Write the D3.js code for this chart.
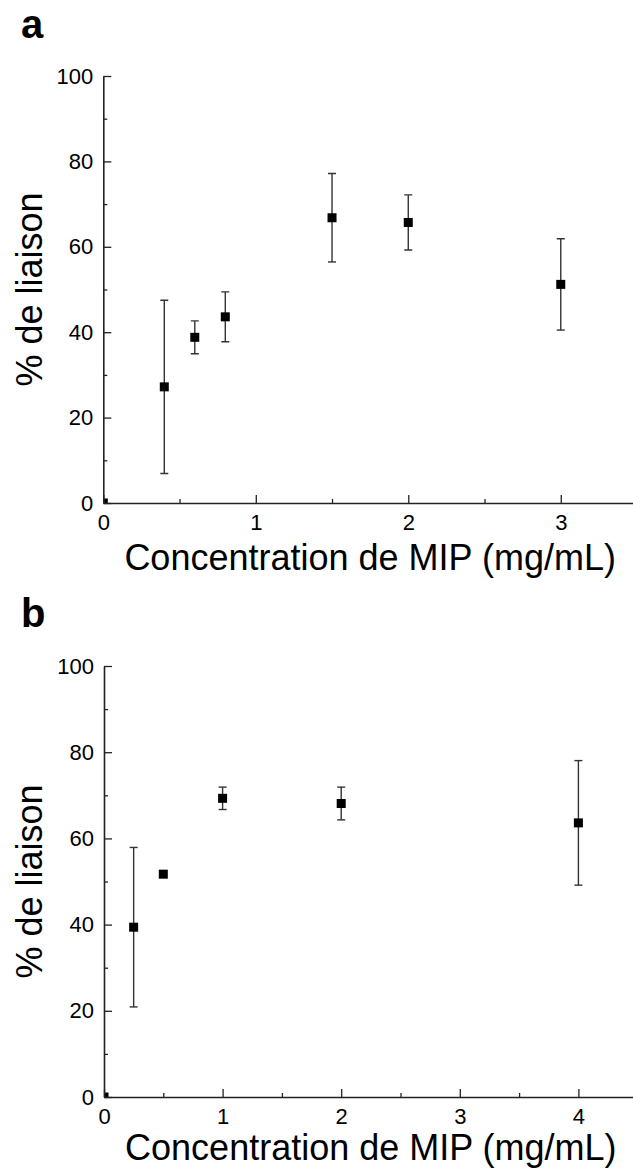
<!DOCTYPE html>
<html><head><meta charset="utf-8">
<script src="https://cdn.jsdelivr.net/npm/d3@7"></script>
<style>
html,body{margin:0;padding:0;background:#fff;}
svg{display:block;font-family:"Liberation Sans",Arial,sans-serif;}
</style></head>
<body>
<script>
// Panel a data
const aConc = [0, 0.4, 0.6, 0.8, 1.5, 2, 3];
const aBind = [0, 27.2, 38.8, 43.6, 66.8, 65.7, 51.2];
const aErr  = [0, 20.3, 3.85, 5.85, 10.35, 6.45, 10.7];
// Panel b data
const bConc = [0, 0.25, 0.5, 1, 2, 4];
const bBind = [0, 39.4, 51.7, 69.3, 68.1, 63.6];
const bErr  = [0, 18.5, 0, 2.6, 3.8, 14.45];

const yTicks = [0, 20, 40, 60, 80, 100];
const yMinor = [10, 30, 50, 70, 90];
const aXTicks = [0, 1, 2, 3];
const aXMinor = [0.5, 1.5, 2.5, 3.5];
const bXTicks = [0, 1, 2, 3, 4];
const bXMinor = [0.5, 1.5, 2.5, 3.5, 4.5];

const xTitle = "Concentration de MIP (mg/mL)";
const yTitle = "% de liaison";

const W = 633, H = 1170;
const svg = d3.select("body").append("svg").attr("width", W).attr("height", H);

function panel(cfg) {
  const g = svg.append("g");
  const x = d3.scaleLinear().domain([0, cfg.xmax]).range([cfg.x0, cfg.x1]);
  const y = d3.scaleLinear().domain([0, 100]).range([cfg.y0, cfg.y1]);
  const id = "clip" + cfg.label;
  svg.append("clipPath").attr("id", id).append("rect")
    .attr("x", cfg.x0).attr("y", cfg.y1 - 10).attr("width", W - cfg.x0).attr("height", cfg.y0 - cfg.y1 + 10);

  // panel letter
  g.append("text").attr("x", 21).attr("y", cfg.labelY).text(cfg.label)
    .attr("font-size", 40).attr("font-weight", "bold").attr("fill", "#000");

  // data (clipped)
  const d = cfg.xs.map((v, i) => ({x: v, y: cfg.ys[i], e: cfg.es[i]}));
  const dg = g.append("g").attr("clip-path", `url(#${id})`);
  const eb = dg.selectAll("g.eb").data(d.filter(p => p.e > 0)).join("g").attr("class", "eb")
    .attr("stroke", "#333").attr("stroke-width", 1.4);
  eb.append("line").attr("x1", p => x(p.x)).attr("x2", p => x(p.x))
    .attr("y1", p => y(p.y - p.e)).attr("y2", p => y(p.y + p.e));
  eb.append("line").attr("x1", p => x(p.x) - 4).attr("x2", p => x(p.x) + 4)
    .attr("y1", p => y(p.y + p.e)).attr("y2", p => y(p.y + p.e));
  eb.append("line").attr("x1", p => x(p.x) - 4).attr("x2", p => x(p.x) + 4)
    .attr("y1", p => y(p.y - p.e)).attr("y2", p => y(p.y - p.e));
  const s = 9;
  dg.selectAll("rect.m").data(d).join("rect").attr("class", "m")
    .attr("x", p => x(p.x) - s / 2).attr("y", p => y(p.y) - s / 2)
    .attr("width", s).attr("height", s).attr("fill", "#000");

  // axes
  const axStyle = sel => {
    sel.selectAll("path.domain").attr("stroke", "#222").attr("stroke-width", 1.6);
    sel.selectAll(".tick line").attr("stroke", "#222").attr("stroke-width", 1.3);
    sel.selectAll("text").attr("font-size", 22).attr("fill", "#000")
      .attr("font-family", '"Liberation Sans", Arial, sans-serif');
  };
  const ya = g.append("g").attr("transform", `translate(${cfg.x0},0)`)
    .call(d3.axisLeft(y).tickValues(yTicks).tickFormat(d3.format("d"))
      .tickSizeInner(-8).tickSizeOuter(0).tickPadding(10));
  ya.call(axStyle);
  g.append("g").attr("transform", `translate(${cfg.x0},0)`)
    .call(d3.axisLeft(y).tickValues(yMinor).tickSizeInner(-4).tickSizeOuter(0).tickFormat(""))
    .call(axStyle).select("path.domain").remove();

  const xa = g.append("g").attr("transform", `translate(0,${cfg.y0})`)
    .call(d3.axisBottom(x).tickValues(cfg.xTicks).tickFormat(d3.format("d"))
      .tickSizeInner(-8).tickSizeOuter(0).tickPadding(11));
  xa.call(axStyle);
  g.append("g").attr("transform", `translate(0,${cfg.y0})`)
    .call(d3.axisBottom(x).tickValues(cfg.xMinor).tickSizeInner(-4).tickSizeOuter(0).tickFormat(""))
    .call(axStyle).select("path.domain").remove();

  // titles
  g.append("text").attr("x", (cfg.x0 + cfg.x1) / 2).attr("y", cfg.y0 + cfg.titleOff)
    .attr("text-anchor", "middle").attr("font-size", 36).attr("fill", "#000").text(xTitle);
  g.append("text").attr("transform", `translate(42,${(cfg.y0 + cfg.y1) / 2}) rotate(-90)`)
    .attr("text-anchor", "middle").attr("font-size", 36).attr("fill", "#000").text(yTitle);
}

panel({label: "a", labelY: 38, xmax: 3.5, x0: 103.3, x1: 637, y0: 503, y1: 76, titleOff: 67,
  xs: aConc, ys: aBind, es: aErr, xTicks: aXTicks, xMinor: aXMinor});
panel({label: "b", labelY: 627, xmax: 4.5, x0: 104, x1: 637.7, y0: 1097, y1: 666, titleOff: 63,
  xs: bConc, ys: bBind, es: bErr, xTicks: bXTicks, xMinor: bXMinor});
</script>
</body></html>
